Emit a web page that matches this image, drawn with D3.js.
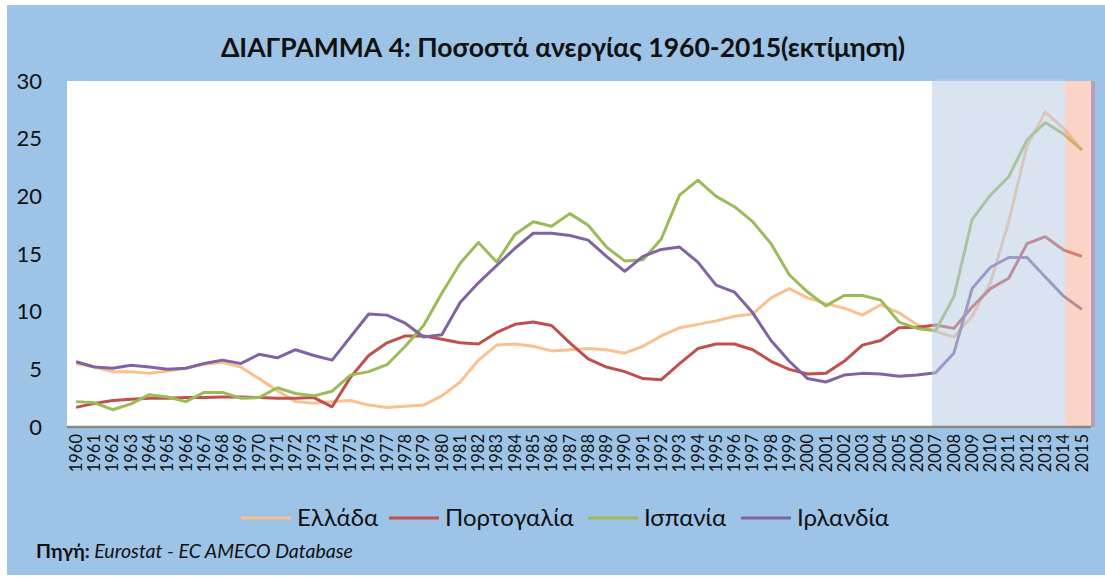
<!DOCTYPE html>
<html>
<head>
<meta charset="utf-8">
<script src="https://cdn.jsdelivr.net/npm/d3@7"></script>
<style>
  body { margin: 0; background: #fff; }
  text { font-family: Lato, "Open Sans", "Noto Sans", sans-serif; }
</style>
</head>
<body>
<div id="chart"></div>
<script>
// years and unemployment rates (%)
var years = d3.range(1960, 2016);

var greece = [5.5, 5.2, 4.8, 4.8, 4.65, 4.85, 5.1, 5.45, 5.6, 5.2,
  4.2, 3.15, 2.2, 2.05, 2.2, 2.3, 1.9, 1.7, 1.8, 1.9,
  2.7, 3.9, 5.8, 7.1, 7.2, 7.0, 6.6, 6.7, 6.8, 6.7,
  6.4, 7.0, 7.9, 8.6, 8.9, 9.2, 9.6, 9.8, 11.2, 12.0,
  11.2, 10.7, 10.3, 9.7, 10.6, 9.9, 8.85, 8.3, 7.8, 9.6,
  12.5, 17.8, 24.4, 27.3, 25.9, 24.0];

var portugal = [1.7, 2.05, 2.3, 2.4, 2.5, 2.5, 2.55, 2.55, 2.6, 2.6,
  2.55, 2.5, 2.5, 2.55, 1.75, 4.3, 6.2, 7.3, 7.9, 7.9,
  7.6, 7.3, 7.2, 8.2, 8.9, 9.1, 8.8, 7.3, 5.9, 5.2,
  4.8, 4.2, 4.1, 5.5, 6.8, 7.2, 7.2, 6.7, 5.7, 5.0,
  4.6, 4.65, 5.7, 7.1, 7.5, 8.6, 8.65, 8.85, 8.55, 10.4,
  12.0, 12.9, 15.9, 16.5, 15.35, 14.8];

var spain = [2.2, 2.1, 1.5, 2.0, 2.8, 2.6, 2.2, 3.0, 3.0, 2.5,
  2.55, 3.4, 2.9, 2.7, 3.1, 4.5, 4.8, 5.4, 7.0, 8.8,
  11.6, 14.2, 16.0, 14.3, 16.7, 17.8, 17.4, 18.5, 17.5, 15.6,
  14.4, 14.5, 16.3, 20.1, 21.4, 20.0, 19.1, 17.8, 15.9, 13.2,
  11.7, 10.5, 11.4, 11.4, 11.0, 9.1, 8.55, 8.35, 11.3, 18.0,
  20.1, 21.7, 24.9, 26.4, 25.4, 24.0];

var ireland = [5.66, 5.2, 5.1, 5.35, 5.2, 5.0, 5.1, 5.5, 5.8, 5.5,
  6.3, 6.0, 6.7, 6.2, 5.8, 7.8, 9.8, 9.7, 9.0, 7.8,
  8.0, 10.8, 12.5, 14.0, 15.5, 16.8, 16.8, 16.6, 16.2, 14.8,
  13.5, 14.8, 15.4, 15.6, 14.3, 12.3, 11.7, 9.9, 7.5, 5.7,
  4.2, 3.9, 4.5, 4.65, 4.6, 4.4, 4.5, 4.7, 6.4, 12.0,
  13.85, 14.7, 14.7, 13.0, 11.35, 10.2];

var seriesNames = ["Ελλάδα", "Πορτογαλία", "Ισπανία", "Ιρλανδία"];
var seriesColors = ["#FAC090", "#C0504D", "#9BBB59", "#8064A2"];
var seriesData = [greece, portugal, spain, ireland];

var yTicks = [0, 5, 10, 15, 20, 25, 30];

var width = 1105, height = 579;
var margin = { top: 81, right: 14, bottom: 152, left: 67 };
var w = width - margin.left - margin.right;
var h = height - margin.top - margin.bottom;

var svg = d3.select("#chart")
  .append("svg")
  .attr("width", width)
  .attr("height", height);

// outer background
svg.append("rect")
  .attr("x", 7).attr("y", 5)
  .attr("width", width - 7).attr("height", height - 9)
  .attr("fill", "#9DC3E6");

// title
svg.append("text")
  .attr("x", 563).attr("y", 57)
  .attr("text-anchor", "middle")
  .attr("font-size", "26.5px")
  .attr("font-weight", "bold")
  .attr("fill", "#111")
  .text("ΔΙΑΓΡΑΜΜΑ 4: Ποσοστά ανεργίας 1960-2015(εκτίμηση)");

var chartGroup = svg.append("g")
  .attr("transform", `translate(${margin.left}, ${margin.top})`);

var xScale = d3.scaleBand().domain(years).range([0, w]);
var yScale = d3.scaleLinear().domain([0, 30]).range([h, 0]);
var xMid = function (yr) { return xScale(yr) + xScale.bandwidth() / 2; };

// plot area
chartGroup.append("rect")
  .attr("width", w).attr("height", h)
  .attr("fill", "#fff");

// lines
var line = d3.line()
  .x(function (d, i) { return xMid(years[i]); })
  .y(function (d) { return yScale(d); });

seriesData.forEach(function (s, k) {
  chartGroup.append("path")
    .datum(s)
    .attr("fill", "none")
    .attr("stroke", seriesColors[k])
    .attr("stroke-width", 3)
    .attr("stroke-linejoin", "round")
    .attr("d", line);
});

// shaded periods drawn over the lines
var step = xScale.step();
var blueX0 = xMid(2007) - 0.2 * step;
var pinkX0 = xMid(2014) + 0.1 * step;

chartGroup.append("rect")
  .attr("x", blueX0).attr("y", -2)
  .attr("width", pinkX0 - blueX0).attr("height", h + 2)
  .attr("fill", "#B8CCE4")
  .attr("opacity", 0.52);

chartGroup.append("rect")
  .attr("x", pinkX0).attr("y", 0)
  .attr("width", w - pinkX0).attr("height", h)
  .attr("fill", "#F9A78F")
  .attr("opacity", 0.5);

// little shadow on the right edge
chartGroup.append("rect")
  .attr("x", w).attr("y", 0)
  .attr("width", 4).attr("height", h)
  .attr("fill", "#B4A0B8");

// x axis line
chartGroup.append("line")
  .attr("x1", 0).attr("x2", w)
  .attr("y1", h).attr("y2", h)
  .attr("stroke", "#888")
  .attr("stroke-width", 2.5);

// y axis labels
var yAxis = d3.axisLeft(yScale).tickValues(yTicks).tickSize(0).tickPadding(25);
var yG = chartGroup.append("g").call(yAxis);
yG.select(".domain").remove();
yG.selectAll("text")
  .attr("font-size", "22px")
  .attr("fill", "#111")
  .style("font-family", "Lato, 'Open Sans', sans-serif");

// x axis labels (rotated years)
var xAxis = d3.axisBottom(xScale).tickSize(0);
var xG = chartGroup.append("g")
  .attr("transform", `translate(0, ${h})`)
  .call(xAxis);
xG.select(".domain").remove();
xG.selectAll("text")
  .attr("transform", "rotate(-90)")
  .attr("text-anchor", "end")
  .attr("x", -7)
  .attr("y", 0)
  .attr("dy", "0.35em")
  .attr("font-size", "16.5px")
  .attr("fill", "#111")
  .style("font-family", "Lato, 'Open Sans', sans-serif");

// legend
var legendX = [241, 389, 588, 741];
var legend = svg.append("g");
seriesNames.forEach(function (name, k) {
  legend.append("line")
    .attr("x1", legendX[k]).attr("x2", legendX[k] + 50)
    .attr("y1", 518).attr("y2", 518)
    .attr("stroke", seriesColors[k])
    .attr("stroke-width", 3);
  legend.append("text")
    .attr("x", legendX[k] + 56).attr("y", 526)
    .attr("font-size", "24px")
    .attr("fill", "#111")
    .text(name);
});

// source note
var src = svg.append("text")
  .attr("x", 36).attr("y", 558)
  .attr("font-size", "19.5px")
  .attr("fill", "#111");
src.append("tspan").attr("font-weight", "bold").text("Πηγή:");
src.append("tspan").attr("font-style", "italic").text(" Eurostat - EC AMECO Database");
</script>
</body>
</html>
